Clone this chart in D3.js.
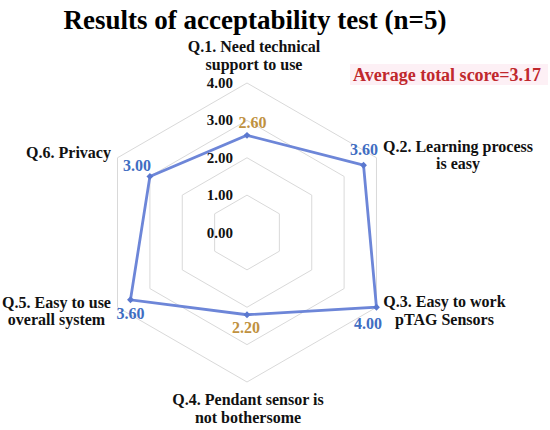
<!DOCTYPE html>
<html><head><meta charset="utf-8">
<script src="https://cdn.jsdelivr.net/npm/d3@7"></script>
<style>
body{margin:0;background:#fff}svg{display:block}
text{font-family:"Liberation Serif","Times New Roman",Times,"DejaVu Serif",serif;}
</style></head>
<body>
<svg id="c" width="550" height="430"></svg>
<script>
const categories = [
  ["Q.1. Need technical", "support to use"],
  ["Q.2. Learning process", "is easy"],
  ["Q.3. Easy to work", "pTAG Sensors"],
  ["Q.4. Pendant sensor is", "not bothersome"],
  ["Q.5. Easy to use", "overall system"],
  ["Q.6. Privacy"]
];
const values = [2.60, 3.60, 4.00, 2.20, 3.60, 3.00];
const tickValues = [0, 1, 2, 3, 4];
const tickLabels = ["0.00", "1.00", "2.00", "3.00", "4.00"];
const titleText = "Results of acceptability test (n=5)";
const noteText = "Average total score=3.17";

const svg = d3.select("#c");
const cx = 247, cy = 232.5;
const r = d3.scaleLinear().domain([0, 4]).range([0, 149.5]);
const ang = d3.scaleLinear().domain([0, categories.length]).range([0, 2 * Math.PI]);
const pt = (i, v) => [cx + r(v) * Math.sin(ang(i)), cy - r(v) * Math.cos(ang(i))];

// title
svg.append("text").attr("x", 255).attr("y", 29).attr("text-anchor", "middle")
  .attr("font-weight", "bold").attr("font-size", 27)
  .attr("fill", "#000").text(titleText);

// note
const note = svg.append("g");
note.append("rect").attr("x", 350).attr("y", 64).attr("width", 198).attr("height", 21).attr("fill", "#fdf0f5");
note.append("text").attr("x", 353).attr("y", 80.5)
  .attr("font-weight", "bold").attr("font-size", 18)
  .attr("fill", "#c0282d").text(noteText);

// grid hexagons
const line = d3.line();
svg.append("g").selectAll("path").data(tickValues.filter(t => t > 0)).join("path")
  .attr("d", t => line(categories.map((c, i) => pt(i, t))) + "Z")
  .attr("fill", "none").attr("stroke", "#d9d9d9").attr("stroke-width", 1);

// tick labels
svg.append("g").selectAll("text").data(tickValues).join("text")
  .attr("x", cx - 14).attr("y", t => pt(0, t)[1] + 5)
  .attr("text-anchor", "end").attr("font-weight", "bold")
  .attr("font-size", 15).attr("fill", "#111").text((t, i) => tickLabels[i]);

// data polygon
svg.append("path").attr("d", line(values.map((v, i) => pt(i, v))) + "Z")
  .attr("fill", "none").attr("stroke", "#6d86d8").attr("stroke-width", 2.8)
  .attr("stroke-linejoin", "miter");
svg.append("g").selectAll("path").data(values).join("path")
  .attr("d", d3.symbol(d3.symbolDiamond2, 30)())
  .attr("transform", (v, i) => `translate(${pt(i, v)})`)
  .attr("fill", "#5b78cf");

// value labels
const valOff = [[5.5, -7], [0.5, -10], [-8.5, 21.5], [-1, 18], [0, 19], [-13, -5]];
svg.append("g").selectAll("text").data(values).join("text")
  .attr("x", (v, i) => pt(i, v)[0] + valOff[i][0])
  .attr("y", (v, i) => pt(i, v)[1] + valOff[i][1])
  .attr("text-anchor", "middle").attr("font-weight", "bold")
  .attr("font-size", 16).attr("fill", v => v < 3 ? "#c0913f" : "#3f6dc2")
  .text(v => d3.format(".2f")(v));

// axis labels
const labOff = [[7, -31], [81.5, -5.8], [68, 0], [1, 23], [-61, 0.4], [-49, 0]];
const lg = svg.append("g");
categories.forEach((lines, i) => {
  const [vx, vy] = pt(i, 4);
  const t = lg.append("text").attr("text-anchor", "middle")
    .attr("font-weight", "bold").attr("font-size", 16).attr("fill", "#111");
  lines.forEach((s, k) => {
    t.append("tspan").attr("x", vx + labOff[i][0]).attr("y", vy + labOff[i][1] + k * 17.5).text(s);
  });
});
</script>
</body></html>
